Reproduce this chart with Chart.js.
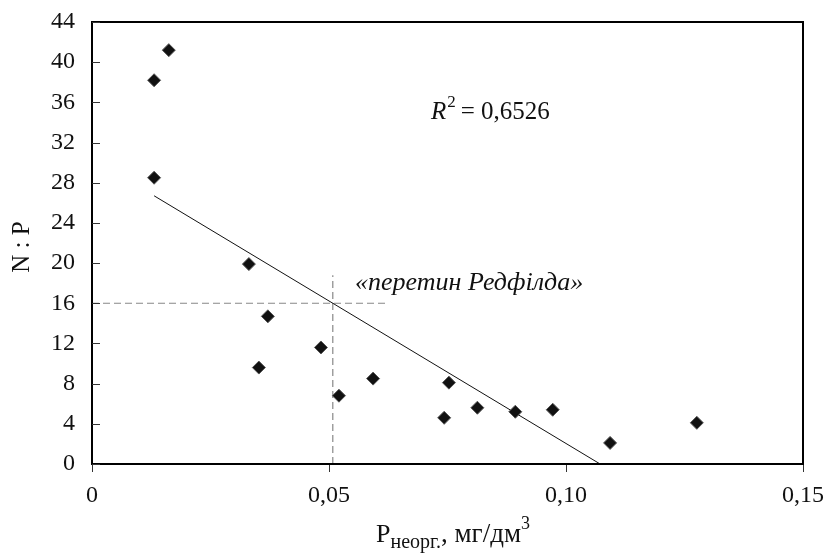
<!DOCTYPE html>
<html><head><meta charset="utf-8">
<script src="https://cdn.jsdelivr.net/npm/chart.js@4.4.1/dist/chart.umd.min.js"></script>
<style>html,body{margin:0;padding:0;background:#fff}#wrap{width:828px;height:553px}</style>
</head><body><div id="wrap"><canvas id="c" width="828" height="553"></canvas></div>
<script>
const xVals = [0.0131, 0.0162, 0.0131, 0.0331, 0.0371, 0.0352, 0.0483, 0.0521, 0.0593, 0.0743, 0.0753, 0.0813, 0.0893, 0.0972, 0.1093, 0.1276];
const yVals = [38.2, 41.2, 28.5, 19.9, 14.7, 9.6, 11.6, 6.8, 8.5, 4.6, 8.1, 5.6, 5.2, 5.4, 2.1, 4.1];
const trendX = [0.0131, 0.1072];
const trendY = [26.7, 0];
const redfieldH = {x: [0, 0.0622], y: [16, 16]};
const redfieldV = {x: [0.0508, 0.0508], y: [0, 18.8]};
const xTickValues = [0, 0.05, 0.10, 0.15];
const xTickLabels = ['0', '0,05', '0,10', '0,15'];
const yTickValues = [0,4,8,12,16,20,24,28,32,36,40,44];
const r2Text = '= 0,6526';
const redfieldText = '«перетин Редфілда»';

const FONT = '"Liberation Serif", "DejaVu Serif", serif';
const toPts = (xs, ys) => xs.map((x, i) => ({x, y: ys[i]}));

const decor = {
  id: 'decor',
  afterDraw(chart) {
    const {ctx, chartArea: a, scales: {x, y}} = chart;
    ctx.save();
    // frame
    ctx.strokeStyle = '#000'; ctx.lineWidth = 2;
    ctx.strokeRect(a.left, a.top, a.right - a.left, a.bottom - a.top);
    // inward y ticks
    ctx.lineWidth = 1; ctx.strokeStyle = '#333';
    yTickValues.forEach(v => {
      const py = Math.round(y.getPixelForValue(v)) + 0.5;
      ctx.beginPath(); ctx.moveTo(a.left, py); ctx.lineTo(a.left + 8, py); ctx.stroke();
    });
    // R^2 text
    ctx.fillStyle = '#111'; ctx.textBaseline = 'middle'; ctx.textAlign = 'left';
    let px = x.getPixelForValue(0.0715), py = y.getPixelForValue(35);
    ctx.font = 'italic 25px ' + FONT; ctx.fillText('R', px, py);
    px += ctx.measureText('R').width;
    ctx.font = '17px ' + FONT; ctx.fillText('2', px + 1, py - 10);
    px += ctx.measureText('2').width + 6;
    ctx.font = '25px ' + FONT; ctx.fillText(r2Text, px, py);
    // Redfield text
    ctx.font = 'italic 26px ' + FONT;
    ctx.fillText(redfieldText, x.getPixelForValue(0.0555), y.getPixelForValue(18.0));
    // y title
    ctx.save();
    ctx.translate(22, 247); ctx.rotate(-Math.PI / 2);
    ctx.textAlign = 'center'; ctx.font = '25px ' + FONT;
    ctx.fillText('N : P', 0, 0);
    ctx.restore();
    // x title
    const parts = [['P', '26px', 0], ['неорг.', '20px', 8], [', мг/дм', '27px', 0], ['3', '18px', -11]];
    let tx = 376, ty = 535;
    parts.forEach(p => {
      ctx.font = p[1] + ' ' + FONT; ctx.fillText(p[0], tx, ty + p[2]);
      tx += ctx.measureText(p[0]).width;
    });
    ctx.restore();
  }
};

new Chart(document.getElementById('c'), {
  type: 'scatter',
  data: {
    datasets: [
      {data: toPts(xVals, yVals), pointStyle: 'rectRot', pointRadius: 6.5, pointBackgroundColor: '#111', pointBorderColor: '#555', pointBorderWidth: 1, order: 0},
      {type: 'line', data: toPts(trendX, trendY), borderColor: '#111', borderWidth: 1, pointRadius: 0, fill: false, order: 1},
      {type: 'line', data: toPts(redfieldH.x, redfieldH.y), borderColor: '#888', borderWidth: 1.2, borderDash: [7, 4], pointRadius: 0, fill: false, order: 2},
      {type: 'line', data: toPts(redfieldV.x, redfieldV.y), borderColor: '#888', borderWidth: 1.2, borderDash: [7, 4], pointRadius: 0, fill: false, order: 2}
    ]
  },
  options: {
    responsive: false, animation: false,
    layout: {padding: {left: 0, top: 22, right: 25, bottom: 0}},
    plugins: {legend: {display: false}, tooltip: {enabled: false}},
    scales: {
      x: {
        type: 'linear', min: 0, max: 0.15,
        afterBuildTicks: s => { s.ticks = xTickValues.map(v => ({value: v})); },
        afterFit: s => { s.height = 89; s.paddingLeft = 0; s.paddingRight = 0; },
        border: {display: false},
        grid: {drawOnChartArea: false, tickLength: 8, color: '#333', lineWidth: 1},
        ticks: {font: {family: FONT, size: 24}, color: '#111', padding: 9, maxRotation: 0,
          callback: (v, i) => xTickLabels[i]}
      },
      y: {
        min: 0, max: 44,
        afterBuildTicks: s => { s.ticks = yTickValues.map(v => ({value: v})); },
        afterFit: s => { s.width = 92; s.paddingTop = 0; s.paddingBottom = 0; },
        border: {display: false},
        grid: {display: true, drawOnChartArea: false, drawTicks: false},
        ticks: {font: {family: FONT, size: 24}, color: '#111', padding: 17}
      }
    }
  },
  plugins: [decor]
});
</script></body></html>
